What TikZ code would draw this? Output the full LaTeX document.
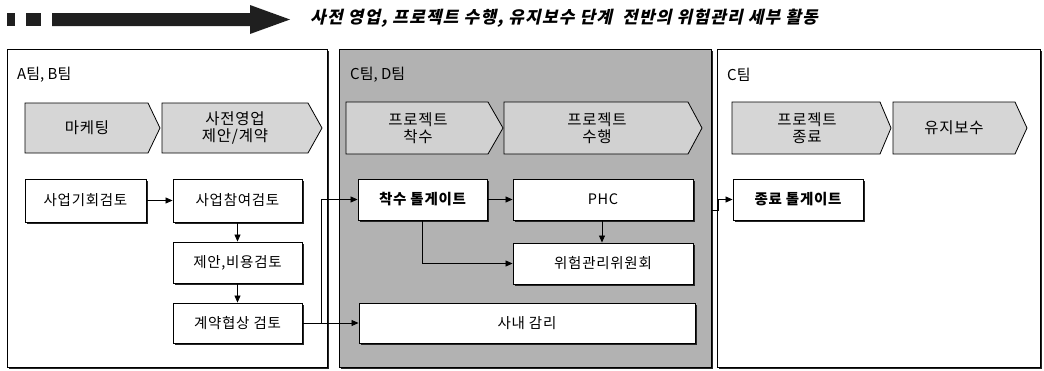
\documentclass[tikz,border=0pt]{standalone}
\usepackage{fontspec}
\setmainfont{Noto Sans CJK KR}
\newfontfamily\hdrfont{Noto Sans CJK KR}[FakeSlant=0.22,LetterSpace=7]
\newfontfamily\spfont{Noto Sans CJK KR}[LetterSpace=5]
\usetikzlibrary{arrows.meta,shadows}
\definecolor{panelgray}{gray}{0.70}
\definecolor{chevgray}{gray}{0.84}
\definecolor{chevgrayb}{gray}{0.82}
\definecolor{bargray}{gray}{0.12}
\newcommand\boxfnt{\spfont\fontsize{14.5}{17}\selectfont}
\newcommand\chevfnt{\spfont\fontsize{15.5}{17.5}\selectfont}
\newcommand\titlefnt{\fontsize{15}{17}\selectfont}
\begin{document}
\begin{tikzpicture}[x=1pt,y=-1pt,
  shad/.style={drop shadow={shadow xshift=2pt,shadow yshift=-2pt,fill=black!85,opacity=1}},
  panel/.style={draw=black,line width=0.8pt,shad},
  chev/.style={draw=black,line width=0.8pt},
  chevtext/.style={inner sep=0pt,align=center,font=\chevfnt},
  box/.style={draw=black,line width=0.9pt,fill=white,inner sep=0pt,font=\boxfnt,shad},
  gatebox/.style={box,font=\boxfnt\bfseries},
  title/.style={anchor=west,inner sep=0pt,font=\titlefnt},
  conn/.style={line width=0.8pt,-{Triangle[length=7pt,width=6pt]}}
]
\useasboundingbox (0,0) rectangle (1044,370);

% header
\fill[bargray] (7,13) rectangle (15,26);
\fill[bargray] (26,13) rectangle (41,26);
\fill[bargray] (52,13) -- (250,13) -- (250,5) -- (290,19.5) -- (250,34) -- (250,26) -- (52,26) -- cycle;
\node[anchor=west,inner sep=0pt,font=\hdrfont\bfseries\fontsize{17}{19}\selectfont] (hdr) at (310,18.5)
  {사전 영업, 프로젝트 수행, 유지보수 단계 \ 전반의 위험관리 세부 활동};

% panels
\path[panel,fill=white] (7,49) rectangle (327,367);
\path[panel,fill=panelgray] (339,49) rectangle (711,367);
\path[panel,fill=white] (717,49) rectangle (1040,367);

\node[title] (t1) at (17,75) {A팀, B팀};
\node[title] (t2) at (350,75) {C팀, D팀};
\node[title] (t3) at (727,75) {C팀};

% chevrons
\path[chev,fill=chevgray] (25,103) -- (148,103) -- (160,128) -- (148,153) -- (25,153) -- cycle;
\path[chev,fill=chevgray] (162,103) -- (308,103) -- (322,128) -- (308,153) -- (162,153) -- cycle;
\path[chev,fill=chevgrayb] (346,102) -- (488,102) -- (503,128) -- (488,154) -- (346,154) -- cycle;
\path[chev,fill=chevgrayb] (504,102) -- (688,102) -- (702,128) -- (688,154) -- (504,154) -- cycle;
\path[chev,fill=chevgray] (732,102) -- (880,102) -- (891,128) -- (880,154) -- (732,154) -- cycle;
\path[chev,fill=chevgray] (893,102) -- (1015,102) -- (1027,128) -- (1015,154) -- (893,154) -- cycle;

\node[chevtext] (c1) at (87,128) {마케팅};
\node[chevtext] (c2) at (235,128) {사전영업\\제안/계약};
\node[chevtext] (c3) at (418,128) {프로젝트\\착수};
\node[chevtext] (c4) at (597,128) {프로젝트\\수행};
\node[chevtext] (c5) at (807,128) {프로젝트\\종료};
\node[chevtext] (c6) at (954,128) {유지보수};

% boxes
\node[box,minimum width=121pt,minimum height=43pt] (n1) at (85.5,200.5) {사업기회검토};
\node[box,minimum width=129pt,minimum height=43pt] (n2) at (237.5,200.5) {사업참여검토};
\node[box,minimum width=129pt,minimum height=41pt] (n3) at (237.5,262.5) {제안,비용검토};
\node[box,minimum width=129pt,minimum height=40pt] (n4) at (237.5,323) {계약협상 검토};
\node[gatebox,minimum width=129pt,minimum height=41pt] (g1) at (422.5,199.5) {착수 톨게이트};
\node[box,minimum width=180pt,minimum height=41pt] (phc) at (603,199.5) {PHC};
\node[box,minimum width=180pt,minimum height=41pt] (rc) at (603,263.5) {위험관리위원회};
\node[box,minimum width=336pt,minimum height=40pt] (audit) at (527,323) {사내 감리};
\node[gatebox,minimum width=130pt,minimum height=41pt] (g2) at (798,199.5) {종료 톨게이트};

% connectors
\coordinate (j) at (321,323);
\coordinate (p2out) at (712,210);
\draw[conn] (n1) -- (n2);
\draw[conn] (n2) -- (n3);
\draw[conn] (n3) -- (n4);
\draw[conn] (n4) -- (audit);
\draw[conn] (j) |- (g1.west);
\draw[conn] (g1) -- (phc);
\draw[conn] (g1.south) |- (rc.west);
\draw[conn] (phc.south -| 602,0) -- (rc.north -| 602,0);
\draw[conn] (p2out) -- ++(6,0) |- (g2.west);
\end{tikzpicture}
\end{document}
